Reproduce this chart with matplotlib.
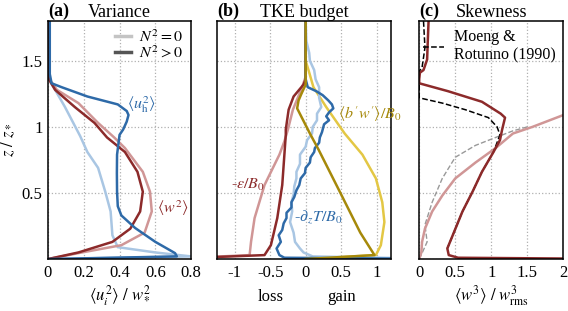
import numpy as np
import matplotlib
matplotlib.use("Agg")
import matplotlib.pyplot as plt
import matplotlib.transforms as mtransforms
from matplotlib.lines import Line2D

plt.rcParams['font.family'] = ['Liberation Serif', 'DejaVu Serif']
plt.rcParams['mathtext.fontset'] = 'stix'
plt.rcParams['font.size'] = 11

# colours
c_blue_d = '#2e6aa8'
c_blue_l = '#a9c6e3'
c_red_d = '#8c2a2a'
c_red_l = '#d09696'
c_yel_d = '#a6890a'
c_yel_l = '#e3c744'

# ---- (a) variance ----
uh2_strat_z = [1.8, 1.40, 1.33, 1.30, 1.23, 1.17, 1.12, 1.09, 1.04, 0.98, 0.94, 0.79, 0.65, 0.51, 0.40, 0.33, 0.235, 0.13, 0.045, 0.02, 0.0]
uh2_strat_x = [0.01, 0.01, 0.02, 0.077, 0.22, 0.39, 0.44, 0.45, 0.44, 0.42, 0.40, 0.386, 0.385, 0.386, 0.39, 0.41, 0.487, 0.60, 0.71, 0.72, 0.0]
uh2_neut_z = [1.8, 1.45, 1.35, 1.15, 0.93, 0.81, 0.69, 0.51, 0.36, 0.18, 0.09, 0.05, 0.02, 0.0]
uh2_neut_x = [0.0, 0.0, 0.01, 0.095, 0.18, 0.22, 0.28, 0.32, 0.35, 0.36, 0.39, 0.60, 0.80, 0.0]
w2_strat_z = [1.8, 1.40, 1.36, 1.28, 1.15, 1.03, 0.92, 0.81, 0.66, 0.51, 0.36, 0.23, 0.13, 0.05, 0.0]
w2_strat_x = [0.0, 0.0, 0.005, 0.04, 0.15, 0.26, 0.33, 0.43, 0.50, 0.53, 0.515, 0.46, 0.36, 0.17, 0.0]
w2_neut_z = [1.8, 1.40, 1.36, 1.28, 1.18, 1.03, 0.92, 0.84, 0.66, 0.51, 0.36, 0.20, 0.105, 0.045, 0.0]
w2_neut_x = [0.0, 0.0, 0.008, 0.05, 0.17, 0.28, 0.37, 0.43, 0.53, 0.57, 0.58, 0.54, 0.41, 0.17, 0.0]

# ---- (b) TKE budget ----
bw_strat_z = [1.8, 1.32, 1.25, 1.20, 1.14, 0.95, 0.83, 0.50, 0.20, 0.03, 0.0]
bw_strat_x = [0.0, 0.0, -0.06, -0.10, -0.12, 0.06, 0.18, 0.49, 0.77, 0.97, 0.0]
bw_neut_z = [1.8, 1.50, 1.43, 1.30, 1.15, 0.95, 0.79, 0.61, 0.43, 0.28, 0.105, 0.03, 0.0]
bw_neut_x = [0.0, 0.0, 0.04, 0.11, 0.29, 0.55, 0.80, 0.99, 1.08, 1.11, 1.06, 0.99, 0.0]
eps_strat_z = [1.8, 1.36, 1.32, 1.23, 1.13, 0.98, 0.94, 0.56, 0.31, 0.105, 0.03, 0.0]
eps_strat_x = [0.0, 0.0, -0.03, -0.17, -0.24, -0.28, -0.28, -0.33, -0.40, -0.49, -0.58, -2.0]
eps_neut_z = [1.8, 1.38, 1.30, 1.13, 0.98, 0.89, 0.79, 0.56, 0.31, 0.13, 0.03, 0.0]
eps_neut_x = [0.0, 0.0, -0.05, -0.18, -0.25, -0.30, -0.37, -0.58, -0.72, -0.77, -0.79, -2.0]
tr_strat_z = [1.8, 1.36, 1.30, 1.27, 1.24, 1.20, 1.17, 1.14, 1.11, 1.08, 1.05, 1.02, 1.00, 0.96, 0.92,
              0.88, 0.84, 0.81, 0.77, 0.73, 0.69, 0.65, 0.61, 0.56, 0.52, 0.47, 0.43, 0.39, 0.35,
              0.31, 0.27, 0.22, 0.18, 0.13, 0.08, 0.03, 0.01, 0.0]
tr_strat_x = [0.0, 0.0, 0.03, 0.15, 0.24, 0.32, 0.37, 0.39, 0.33, 0.29, 0.33, 0.26, 0.25, 0.23, 0.20,
              0.19, 0.13, 0.12, 0.07, 0.06, 0.0, -0.01, -0.07, -0.09, -0.13, -0.16, -0.20, -0.20, -0.27,
              -0.27, -0.31, -0.33, -0.38, -0.35, -0.41, -0.37, -0.30, 2.0]
tr_neut_z = [1.8, 1.65, 1.56, 1.50, 1.43, 1.36, 1.30, 1.22, 1.15, 1.10, 1.05, 1.00, 0.95, 0.90, 0.85,
             0.79, 0.72, 0.66, 0.61, 0.55, 0.49, 0.43, 0.36, 0.28, 0.20, 0.13, 0.08, 0.05, 0.02, 0.0]
tr_neut_x = [0.0, 0.01, 0.05, 0.06, 0.12, 0.14, 0.19, 0.19, 0.22, 0.16, 0.16, 0.10, 0.09, 0.02, 0.0,
             -0.08, -0.08, -0.13, -0.13, -0.16, -0.17, -0.20, -0.19, -0.22, -0.17, -0.15, -0.08, -0.03, 0.1, 2.0]

# ---- (c) skewness ----
sk_strat_z = [1.8, 1.66, 1.51, 1.43, 1.41, 1.36, 1.33, 1.27, 1.19, 1.10, 1.07, 0.98, 0.90, 0.81, 0.66,
              0.51, 0.36, 0.20, 0.08, 0.03, 0.01, 0.0]
sk_strat_x = [0.13, 0.12, 0.11, 0.06, 0.01, 0.0, 0.0, 0.40, 0.87, 1.13, 1.19, 1.15, 1.12, 1.03, 0.87,
              0.74, 0.60, 0.48, 0.39, 0.41, 0.54, 3.0]
sk_neut_z = [1.13, 1.09, 1.00, 0.95, 0.84, 0.73, 0.61, 0.48, 0.36, 0.23, 0.13, 0.05, 0.0]
sk_neut_x = [2.3, 2.0, 1.57, 1.30, 1.06, 0.78, 0.50, 0.32, 0.18, 0.08, 0.04, 0.03, 0.0]
mr_z = [1.8, 1.6, 1.45, 1.42, 1.22, 1.18, 1.13, 1.07, 1.00, 0.94, 0.81, 0.66, 0.51, 0.36, 0.20, 0.08]
mr_x = [0.06, 0.08, 0.04, 0.0, 0.0, 0.32, 0.64, 0.96, 1.08, 1.12, 1.03, 0.87, 0.74, 0.60, 0.48, 0.39]
gd_z = [1.00, 0.97, 0.92, 0.86, 0.77, 0.61, 0.43, 0.26, 0.13, 0.045, 0.0]
gd_x = [1.5, 1.3, 1.06, 0.78, 0.50, 0.32, 0.18, 0.08, 0.11, 0.04, 0.0]

fig = plt.figure(figsize=(5.68, 3.11), dpi=100)
bot, hgt = 0.167, 0.765
axa = fig.add_axes([0.0845, bot, 0.252, hgt])
axb = fig.add_axes([0.382, bot, 0.306, hgt])
axc = fig.add_axes([0.738, bot, 0.254, hgt])

lw = 1.8
fs_tick = 12
fs_lab = 12
fs_title = 13
for ax in (axa, axb, axc):
    ax.set_ylim(0, 1.8)
    ax.grid(True, linestyle=':', color='#b0b0b0', linewidth=0.9)
    ax.tick_params(length=0, labelsize=fs_tick, pad=4)
    ax.set_yticks([0, 0.5, 1, 1.5])
    for s in ax.spines.values():
        s.set_linewidth(1.1)

# (a)
axa.plot(uh2_neut_x, uh2_neut_z, color=c_blue_l, lw=lw)
axa.plot(w2_neut_x, w2_neut_z, color=c_red_l, lw=lw)
axa.plot(w2_strat_x, w2_strat_z, color=c_red_d, lw=lw)
axa.plot(uh2_strat_x, uh2_strat_z, color=c_blue_d, lw=lw)
axa.set_xlim(0, 0.8)
axa.set_xticks([0, 0.2, 0.4, 0.6, 0.8])
axa.set_xticklabels(['0', '0.2', '0.4', '0.6', '0.8'])
axa.set_yticklabels(['', '0.5', '1', '1.5'])
axa.set_ylabel(r'$z\ /\ z_*$', fontsize=fs_lab, labelpad=4)
axa.set_xlabel(r'$\langle u_i^2\rangle\ /\ w_*^2$', fontsize=fs_lab, labelpad=2)
axa.text(0.44, 1.14, r'$\langle u_\mathrm{h}^2\rangle$', color=c_blue_d, fontsize=11.5)
axa.text(0.61, 0.35, r'$\langle w^2\rangle$', color=c_red_d, fontsize=11.5)
handles = [Line2D([], [], color='#c4c4c4', lw=2.5), Line2D([], [], color='#555555', lw=2.5)]
axa.legend(handles, [r'$N^2 = 0$', r'$N^2 > 0$'], loc='upper right', frameon=False,
           handlelength=1.0, handletextpad=0.5, labelspacing=0.0, fontsize=11.5,
           borderaxespad=0.1)
axa.set_title('Variance', fontsize=fs_title, pad=3)
axa.text(0, 1.02, '(a)', transform=axa.transAxes, fontsize=fs_title, fontweight='bold')

# (b)
axb.plot(bw_neut_x, bw_neut_z, color=c_yel_l, lw=lw)
axb.plot(eps_neut_x, eps_neut_z, color=c_red_l, lw=lw)
axb.plot(eps_strat_x, eps_strat_z, color=c_red_d, lw=lw)
axb.plot(tr_neut_x, tr_neut_z, color=c_blue_l, lw=lw)
axb.plot(tr_strat_x, tr_strat_z, color=c_blue_d, lw=lw)
axb.plot(bw_strat_x, bw_strat_z, color=c_yel_d, lw=lw)
axb.set_xlim(-1.25, 1.2)
axb.set_xticks([-1, -0.5, 0, 0.5, 1])
axb.set_xticklabels(['-1', '-0.5', '0', '0.5', '1'])
axb.set_yticklabels([])
axb.text(0.46, 1.06, r"$\langle b'w'\rangle / B_0$", color=c_yel_d, fontsize=11.5)
axb.text(-1.05, 0.53, r'-$\epsilon / B_0$', color=c_red_d, fontsize=11.5)
axb.text(-0.16, 0.29, r'-$\partial_z T / B_0$', color=c_blue_d, fontsize=11.5)
tr = mtransforms.blended_transform_factory(axb.transData, axb.transAxes)
axb.text(-0.5, -0.16, 'loss', transform=tr, ha='center', va='center', fontsize=fs_lab)
axb.text(0.5, -0.16, 'gain', transform=tr, ha='center', va='center', fontsize=fs_lab)
axb.set_title('TKE budget', fontsize=fs_title, pad=3)
axb.text(0, 1.02, '(b)', transform=axb.transAxes, fontsize=fs_title, fontweight='bold')

# (c)
axc.plot(gd_x, gd_z, color='#999999', lw=1.0, ls='--')
axc.plot(sk_neut_x, sk_neut_z, color=c_red_l, lw=lw)
axc.plot(mr_x, mr_z, color='black', lw=1.1, ls='--')
axc.plot(sk_strat_x, sk_strat_z, color=c_red_d, lw=lw)
axc.set_xlim(0, 2)
axc.set_xticks([0, 0.5, 1, 1.5, 2])
axc.set_xticklabels(['0', '0.5', '1', '1.5', '2'])
axc.set_yticklabels([])
axc.set_xlabel(r'$\langle w^3\rangle\ /\ w_\mathrm{rms}^3$', fontsize=fs_lab, labelpad=2)
axc.legend([Line2D([], [], color='black', lw=1.1, ls='--')], ['Moeng &\nRotunno (1990)'],
           loc='upper right', frameon=False, handlelength=1.3, handletextpad=0.6,
           fontsize=11.5, borderaxespad=0.1, labelspacing=0.0)
axc.set_title('Skewness', fontsize=fs_title, pad=3)
axc.text(0, 1.02, '(c)', transform=axc.transAxes, fontsize=fs_title, fontweight='bold')

fig.savefig('out.png', dpi=100)
